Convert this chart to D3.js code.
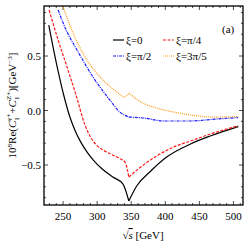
<!DOCTYPE html>
<html>
<head>
<meta charset="utf-8">
<script src="https://cdn.jsdelivr.net/npm/d3@7"></script>
<style>
  html, body { margin: 0; padding: 0; background: #fff; }
  svg { display: block; font-family: 'Liberation Serif', 'Times New Roman', serif; }
</style>
</head>
<body>
<div id="vis"></div>
<script>
// values, sqrt(s) in GeV and 10^8 Re(...) in GeV^-3
const blackS = [229, 240, 251, 260, 268, 276, 285, 295, 307, 323, 337.7, 346.5, 358, 378.7, 402, 437, 466, 507]
const blackV = [0.784, 0.44, 0.14, -0.06, -0.19, -0.29, -0.38, -0.46, -0.535, -0.61, -0.674, -0.83, -0.693, -0.555, -0.427, -0.307, -0.234, -0.148]

const redS = [229.5, 242.7, 255.8, 269, 282, 290, 298, 308, 320, 333, 341, 346.5, 364, 387.4, 412.3, 437, 466, 507]
const redV = [0.922, 0.647, 0.399, 0.142, -0.13, -0.24, -0.31, -0.36, -0.40, -0.44, -0.475, -0.61, -0.518, -0.417, -0.335, -0.28, -0.216, -0.14]

const blueS = [242.7, 254.4, 270.5, 293.9, 318.7, 333.3, 346.5, 368.4, 397.6, 437, 475, 507]
const blueV = [0.922, 0.739, 0.555, 0.307, 0.096, -0.014, -0.06, -0.069, -0.096, -0.096, -0.078, -0.065]

const orangeS = [249, 264.6, 285.1, 308.5, 329, 340.6, 346.5, 364, 387.4, 412.3, 437, 470.8, 507]
const orangeV = [0.97, 0.711, 0.463, 0.28, 0.17, 0.124, 0.161, 0.078, 0.023, -0.014, -0.041, -0.06, -0.055]

const threshold = 346.5
const xTicks = [250, 300, 350, 400, 450, 500]
const yTicks = [-0.5, 0, 0.5]

const series = [
  { name: 'ξ=0',    s: blackS,  v: blackV,  color: '#000000', dash: null },
  { name: 'ξ=π/4',  s: redS,    v: redV,    color: '#ff1a1a', dash: '3,1.5' },
  { name: 'ξ=π/2',  s: blueS,   v: blueV,   color: '#1a1aff', dash: '3,1,1,1' },
  { name: 'ξ=3π/5', s: orangeS, v: orangeV, color: '#ff9a1a', dash: '1,1' }
]

const W = 249, H = 249
const frame = { left: 44, right: 243, top: 6, bottom: 205 }

const x = d3.scaleLinear().domain([222, 514]).range([frame.left, frame.right])
const y = d3.scaleLinear().domain([-0.867, 0.959]).range([frame.bottom, frame.top])

const svg = d3.select('#vis').append('svg')
    .attr('width', W)
    .attr('height', H)

svg.append('clipPath').attr('id', 'clip')
  .append('rect')
    .attr('x', frame.left).attr('y', frame.top)
    .attr('width', frame.right - frame.left)
    .attr('height', frame.bottom - frame.top)

// minor + major ticks, pointing inward
const minorX = d3.range(230, 511, 10)
const minorY = d3.range(-8, 10).map(d => d / 10)

const ticks = svg.append('g').attr('stroke', '#000').attr('stroke-width', 0.7)
minorX.forEach(d => {
  const big = xTicks.includes(d)
  ticks.append('line')
    .attr('x1', x(d)).attr('x2', x(d))
    .attr('y1', frame.bottom).attr('y2', frame.bottom - (big ? 4 : 2))
  ticks.append('line')
    .attr('x1', x(d)).attr('x2', x(d))
    .attr('y1', frame.top).attr('y2', frame.top + (big ? 4 : 2))
})
minorY.forEach(d => {
  const big = yTicks.some(t => Math.abs(t - d) < 1e-9)
  ticks.append('line')
    .attr('x1', frame.left).attr('x2', frame.left + (big ? 4 : 2))
    .attr('y1', y(d)).attr('y2', y(d))
  ticks.append('line')
    .attr('x1', frame.right).attr('x2', frame.right - (big ? 4 : 2))
    .attr('y1', y(d)).attr('y2', y(d))
})

svg.append('g').selectAll('text')
  .data(xTicks)
  .join('text')
    .attr('x', d => x(d))
    .attr('y', frame.bottom + 15)
    .attr('text-anchor', 'middle')
    .attr('font-size', 11)
    .text(d => d)

svg.append('g').selectAll('text')
  .data(yTicks)
  .join('text')
    .attr('x', frame.left - 3)
    .attr('y', d => y(d) + 4)
    .attr('text-anchor', 'end')
    .attr('font-size', 11)
    .text(d => d3.format('.1f')(d).replace('-', '−'))

// curves, split at the threshold so the cusp stays sharp
const line = d3.line()
    .x(d => x(d[0]))
    .y(d => y(d[1]))
    .curve(d3.curveMonotoneX)

const plot = svg.append('g').attr('clip-path', 'url(#clip)')
series.forEach(sr => {
  const pts = sr.s.map((s, i) => [s, sr.v[i]])
  const left  = pts.filter(p => p[0] <= threshold)
  const right = pts.filter(p => p[0] >= threshold)
  ;[left, right].forEach(part => {
    plot.append('path')
      .datum(part)
      .attr('d', line)
      .attr('fill', 'none')
      .attr('stroke', sr.color)
      .attr('stroke-width', 1.2)
      .attr('stroke-dasharray', sr.dash)
  })
})

svg.append('rect')
    .attr('x', frame.left).attr('y', frame.top)
    .attr('width', frame.right - frame.left)
    .attr('height', frame.bottom - frame.top)
    .attr('fill', 'none')
    .attr('stroke', '#000')
    .attr('stroke-width', 1.3)

// legend, two rows of two
const legendPos = [[113, 40], [163, 40], [113, 56], [163, 56]]
series.forEach((sr, i) => {
  const [lx, ly] = legendPos[i]
  svg.append('line')
    .attr('x1', lx).attr('x2', lx + 11)
    .attr('y1', ly).attr('y2', ly)
    .attr('stroke', sr.color)
    .attr('stroke-width', 1.2)
    .attr('stroke-dasharray', sr.dash)
  svg.append('text')
    .attr('x', lx + 13)
    .attr('y', ly + 4)
    .attr('font-size', 11)
    .text(sr.name)
})

svg.append('text')
    .attr('x', 222).attr('y', 33)
    .attr('font-size', 11)
    .text('(a)')

// axis labels
const xl = svg.append('text')
    .attr('x', 143).attr('y', 239)
    .attr('text-anchor', 'middle')
    .attr('font-size', 11)
xl.append('tspan').text('√')
xl.append('tspan').attr('font-style', 'italic').attr('text-decoration', 'overline').text('s')
xl.append('tspan').text(' [GeV]')

const yl = svg.append('text')
    .attr('transform', `translate(16,${(frame.top + frame.bottom) / 2}) rotate(-90)`)
    .attr('text-anchor', 'middle')
    .attr('font-size', 11)
yl.append('tspan').text('10')
yl.append('tspan').attr('font-size', 7).attr('dy', -4).text('8')
yl.append('tspan').attr('dy', 4).text('Re(')
yl.append('tspan').attr('font-style', 'italic').text('C')
yl.append('tspan').attr('font-size', 7).attr('dy', 3).text('1')
yl.append('tspan').attr('font-size', 7).attr('dx', -3.5).attr('dy', -8).text('γ+')
yl.append('tspan').attr('dy', 5).text('+')
yl.append('tspan').attr('font-style', 'italic').text('C')
yl.append('tspan').attr('font-size', 7).attr('dy', 3).text('1')
yl.append('tspan').attr('font-size', 7).attr('dx', -3.5).attr('dy', -8).text('Z+')
yl.append('tspan').attr('dy', 5).text(')[GeV')
yl.append('tspan').attr('font-size', 7).attr('dy', -4).text('−3')
yl.append('tspan').attr('dy', 4).text(']')
</script>
</body>
</html>
